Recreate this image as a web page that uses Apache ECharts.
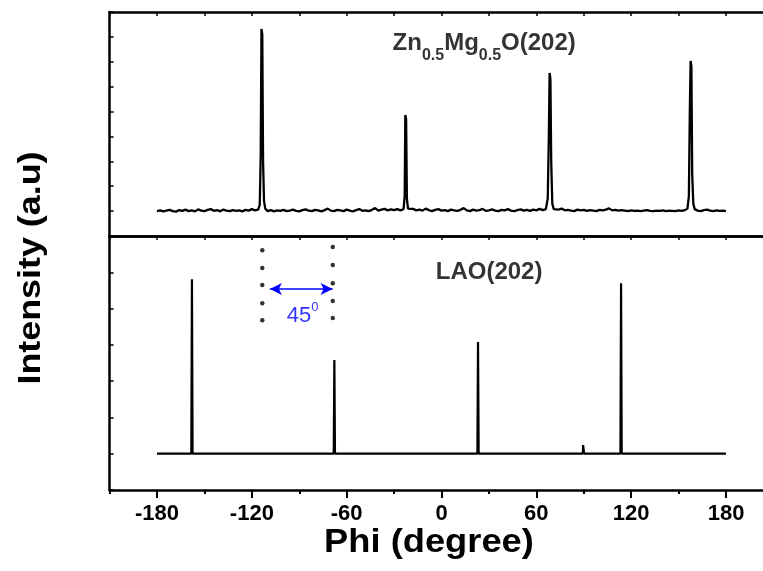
<!DOCTYPE html>
<html>
<head>
<meta charset="utf-8">
<script src="https://cdn.jsdelivr.net/npm/echarts@6/dist/echarts.min.js"></script>
<style>html,body{margin:0;padding:0;background:#fff;}#c{width:763px;height:571px;}</style>
</head>
<body>
<div id="c"></div>
<script>
// ---- data ----
var xTickLabels = [-180, -120, -60, 0, 60, 120, 180];

var topPhi = [-180,-178,-176,-174,-172,-170,-168,-166,-164,-162,-160,-158,-156,-154,-152,-150,-148,-146,-144,-142,-140,-138,-136,-134,-132,-130,-128,-126,-124,-122,-120,-118,
  -116,-115,-114.4,-113.9,-113.4,-112.9,-112.3,-111.5,
  -110,-108,-106,-104,-102,-100,-98,-96,-94,-92,-90,-88,-86,-84,-82,-80,-78,-76,-74,-72,-70,-68,-66,-64,-62,-60,-58,-56,-54,-52,-50,-48,-46,-44,-42,-40,-38,-36,-34,-32,-30,-28,-26,
  -24,-23.3,-22.9,-22.4,-21.9,-21.2,
  -20,-18,-16,-14,-12,-10,-8,-6,-4,-2,0,2,4,6,8,10,12,14,16,18,20,22,24,26,28,30,32,34,36,38,40,42,44,46,48,50,52,54,56,58,60,62,64,
  66,67.2,67.9,68.4,68.9,69.4,70.1,71,
  72,74,76,78,80,82,84,86,88,90,92,94,96,98,100,102,104,106,108,110,112,114,116,118,120,122,124,126,128,130,132,134,136,138,140,142,144,146,148,150,152,154,
  155.6,156.5,157.1,157.6,158.1,158.6,159.3,160.2,
  162,164,166,168,170,172,174,176,178,180];
var topInt = [1.00,1.03,0.99,1.02,1.05,1.00,0.98,1.04,1.01,1.06,1.00,1.03,0.99,1.07,1.02,1.00,1.05,1.08,1.01,1.04,0.99,1.06,1.02,1.00,1.04,1.01,1.03,0.99,1.05,1.02,1.08,1.03,
  1.06,1.25,3.2,8.32,8.1,3.0,1.4,1.1,
  1.00,1.04,0.99,1.03,1.01,1.05,1.00,1.02,1.06,1.01,0.99,1.04,1.07,1.02,1.00,1.05,1.03,0.99,1.04,1.10,1.02,1.00,1.05,1.03,1.00,1.06,1.02,0.99,1.04,1.08,1.01,1.03,1.00,1.05,1.12,1.02,1.06,1.09,1.03,1.07,1.04,1.08,1.03,
  1.08,1.6,4.86,4.7,1.5,1.1,
  1.04,1.09,1.03,1.06,1.02,1.10,1.04,1.00,1.05,1.08,1.02,1.04,1.00,1.06,1.03,1.01,1.05,1.12,1.03,1.00,1.06,1.02,1.04,1.09,1.01,1.03,1.07,1.02,1.00,1.05,1.03,1.08,1.02,1.00,1.04,1.07,1.02,1.05,1.01,1.06,1.03,1.09,1.04,
  1.08,1.5,4.0,6.55,6.3,3.0,1.3,1.08,
  1.02,1.06,1.10,1.03,1.05,1.02,1.00,1.06,1.03,1.05,1.01,1.04,1.02,1.00,1.05,1.03,1.06,1.11,1.03,1.05,1.02,1.04,1.02,1.00,1.03,1.01,1.02,1.00,1.02,1.04,1.01,1.00,1.02,1.01,1.03,1.00,1.02,1.01,1.00,1.03,1.01,1.04,
  1.1,1.6,5.0,7.03,6.8,2.5,1.3,1.08,
  1.02,1.00,1.04,1.06,1.02,1.00,1.03,1.01,1.02,1.00];

var bottomPhi = [-180,-158.3,-157.9,-157.5,-68.2,-67.8,-67.4,22.7,23.1,23.5,89.4,89.6,90.0,90.2,113.2,113.6,114.0,180];
var bottomInt = [1,1,5.81,1,1,3.58,1,1,4.08,1,1,1.24,1.24,1,1,5.70,1,1];

var dotLeftPhi = -113.4;
var dotRightPhi = -68.8;
var dotLeftInt = [6.61,6.12,5.65,5.15,4.68];
var dotRightInt = [6.70,6.20,5.70,5.21,4.74];

var arrowPhi = [-108.6, -68.9];
var arrowInt = 5.54;

var labelTop = {phi: 27.0, val: 7.73};
var labelBottom = {phi: 30.1, val: 6.01};
var labelAngle = {phi: -87.9, val: 4.79};

// ---- build ----
function pairs(xs, ys) { return xs.map(function (x, i) { return [x, ys[i]]; }); }
var dots = dotLeftInt.map(function (v) { return [dotLeftPhi, v]; })
  .concat(dotRightInt.map(function (v) { return [dotRightPhi, v]; }));

var FONT = "'Liberation Sans', Arial, Helvetica, sans-serif";
var LW = 2.5;
var X_MIN = -210, X_MAX = 203.4;

var chart = echarts.init(document.getElementById('c'), null, {renderer: 'canvas'});
var G_LEFT = 109.6;

function plainX(grid, pos, opts) {
  return Object.assign({
    type: 'value', gridIndex: grid, position: pos, min: X_MIN, max: X_MAX, interval: 30,
    axisLine: {show: true, onZero: false, lineStyle: {color: '#000', width: LW}},
    axisTick: {show: false},
    axisLabel: {show: false},
    splitLine: {show: false}
  }, opts || {});
}
var minorTicks = [-210, -150, -90, -30, 30, 90, 150];
var topTicks = [-210, -180, -150, -120, -90, -60, -30, 0, 30, 60, 90, 120, 150, 180];

var option = {
  animation: false,
  backgroundColor: '#fff',
  grid: [
    {left: G_LEFT, top: 12, right: 0, height: 224},
    {left: G_LEFT, top: 236, right: 0, height: 254}
  ],
  xAxis: [
    plainX(0, 'bottom'),
    plainX(0, 'top', {axisTick: {show: true, inside: true, length: 4, customValues: topTicks, lineStyle: {color: '#000', width: 1.5}}}),
    plainX(1, 'top', {axisTick: {show: true, inside: true, length: 4, customValues: topTicks, lineStyle: {color: '#000', width: 1.5}}}),
    plainX(1, 'bottom', {
      axisTick: {show: true, inside: false, length: 8, customValues: xTickLabels, lineStyle: {color: '#000', width: 2}},
      axisLabel: {show: true, customValues: xTickLabels, color: '#000', fontFamily: FONT, fontWeight: 'bold', fontSize: 22, margin: 13}
    }),
    plainX(1, 'bottom', {
      axisLine: {show: false},
      axisTick: {show: true, inside: false, length: 4, customValues: minorTicks, lineStyle: {color: '#000', width: 2}}
    })
  ],
  yAxis: [
    {type: 'value', gridIndex: 0, min: 0, max: 9, interval: 1,
      axisLine: {show: true, onZero: false, lineStyle: {color: '#000', width: LW}},
      axisTick: {show: true, inside: true, length: 4, lineStyle: {color: '#000', width: 1.5}},
      axisLabel: {show: false}, splitLine: {show: false}},
    {type: 'value', gridIndex: 1, min: 0, max: 7, interval: 1,
      axisLine: {show: true, onZero: false, lineStyle: {color: '#000', width: LW}},
      axisTick: {show: true, inside: true, length: 4, lineStyle: {color: '#000', width: 1.5}},
      axisLabel: {show: false}, splitLine: {show: false}}
  ],
  series: [
    {type: 'line', xAxisIndex: 0, yAxisIndex: 0, data: pairs(topPhi, topInt), showSymbol: false, symbol: 'none',
      lineStyle: {color: '#000', width: 2.3}, silent: true},
    {type: 'line', xAxisIndex: 3, yAxisIndex: 1, data: pairs(bottomPhi, bottomInt), showSymbol: false, symbol: 'none',
      lineStyle: {color: '#000', width: 2.2}, silent: true},
    {type: 'scatter', xAxisIndex: 3, yAxisIndex: 1, data: dots, symbol: 'circle', symbolSize: 4.5,
      itemStyle: {color: '#000'}, silent: true,
      markLine: {
        silent: true, symbol: ['arrow', 'arrow'], symbolSize: [9, 12], label: {show: false},
        lineStyle: {color: '#0000ff', width: 1.5, type: 'solid'},
        data: [[{coord: [arrowPhi[0], arrowInt]}, {coord: [arrowPhi[1], arrowInt]}]]
      }},
    {type: 'scatter', xAxisIndex: 0, yAxisIndex: 0, data: [[labelTop.phi, labelTop.val]], symbolSize: 0, silent: true,
      label: {show: true, position: 'inside', align: 'center', verticalAlign: 'middle',
        formatter: '{m|Zn}{s|0.5}{m|Mg}{s|0.5}{m|O(202)}',
        rich: {
          m: {fontSize: 24, fontWeight: 'bold', fontFamily: FONT, color: '#000', lineHeight: 40},
          s: {fontSize: 16, fontWeight: 'bold', fontFamily: FONT, color: '#000', lineHeight: 11, verticalAlign: 'bottom'}
        }}},
    {type: 'scatter', xAxisIndex: 3, yAxisIndex: 1, data: [[labelBottom.phi, labelBottom.val]], symbolSize: 0, silent: true,
      label: {show: true, position: 'inside', align: 'center', verticalAlign: 'middle',
        formatter: 'LAO(202)', fontSize: 24, fontWeight: 'bold', fontFamily: FONT, color: '#000'}},
    {type: 'scatter', xAxisIndex: 3, yAxisIndex: 1, data: [[labelAngle.phi, labelAngle.val]], symbolSize: 0, silent: true,
      label: {show: true, position: 'inside', align: 'center', verticalAlign: 'middle',
        formatter: '{m|45}{p|0}',
        rich: {
          m: {fontSize: 22, fontFamily: FONT, color: '#0000ff', lineHeight: 30},
          p: {fontSize: 13, fontFamily: FONT, color: '#0000ff', lineHeight: 13, verticalAlign: 'top'}
        }}}
  ],
  graphic: [
    {type: 'text', x: 429, y: 543, scaleX: 1.1, style: {text: 'Phi (degree)', fill: '#000', font: 'bold 33px ' + FONT, textAlign: 'center', textVerticalAlign: 'middle'}, silent: true},
    {type: 'text', x: 31, y: 268, rotation: Math.PI / 2, scaleX: 1.12, style: {text: 'Intensity (a.u)', fill: '#000', font: 'bold 32px ' + FONT, textAlign: 'center', textVerticalAlign: 'middle'}, silent: true}
  ]
};
chart.setOption(option);
</script>
</body>
</html>
